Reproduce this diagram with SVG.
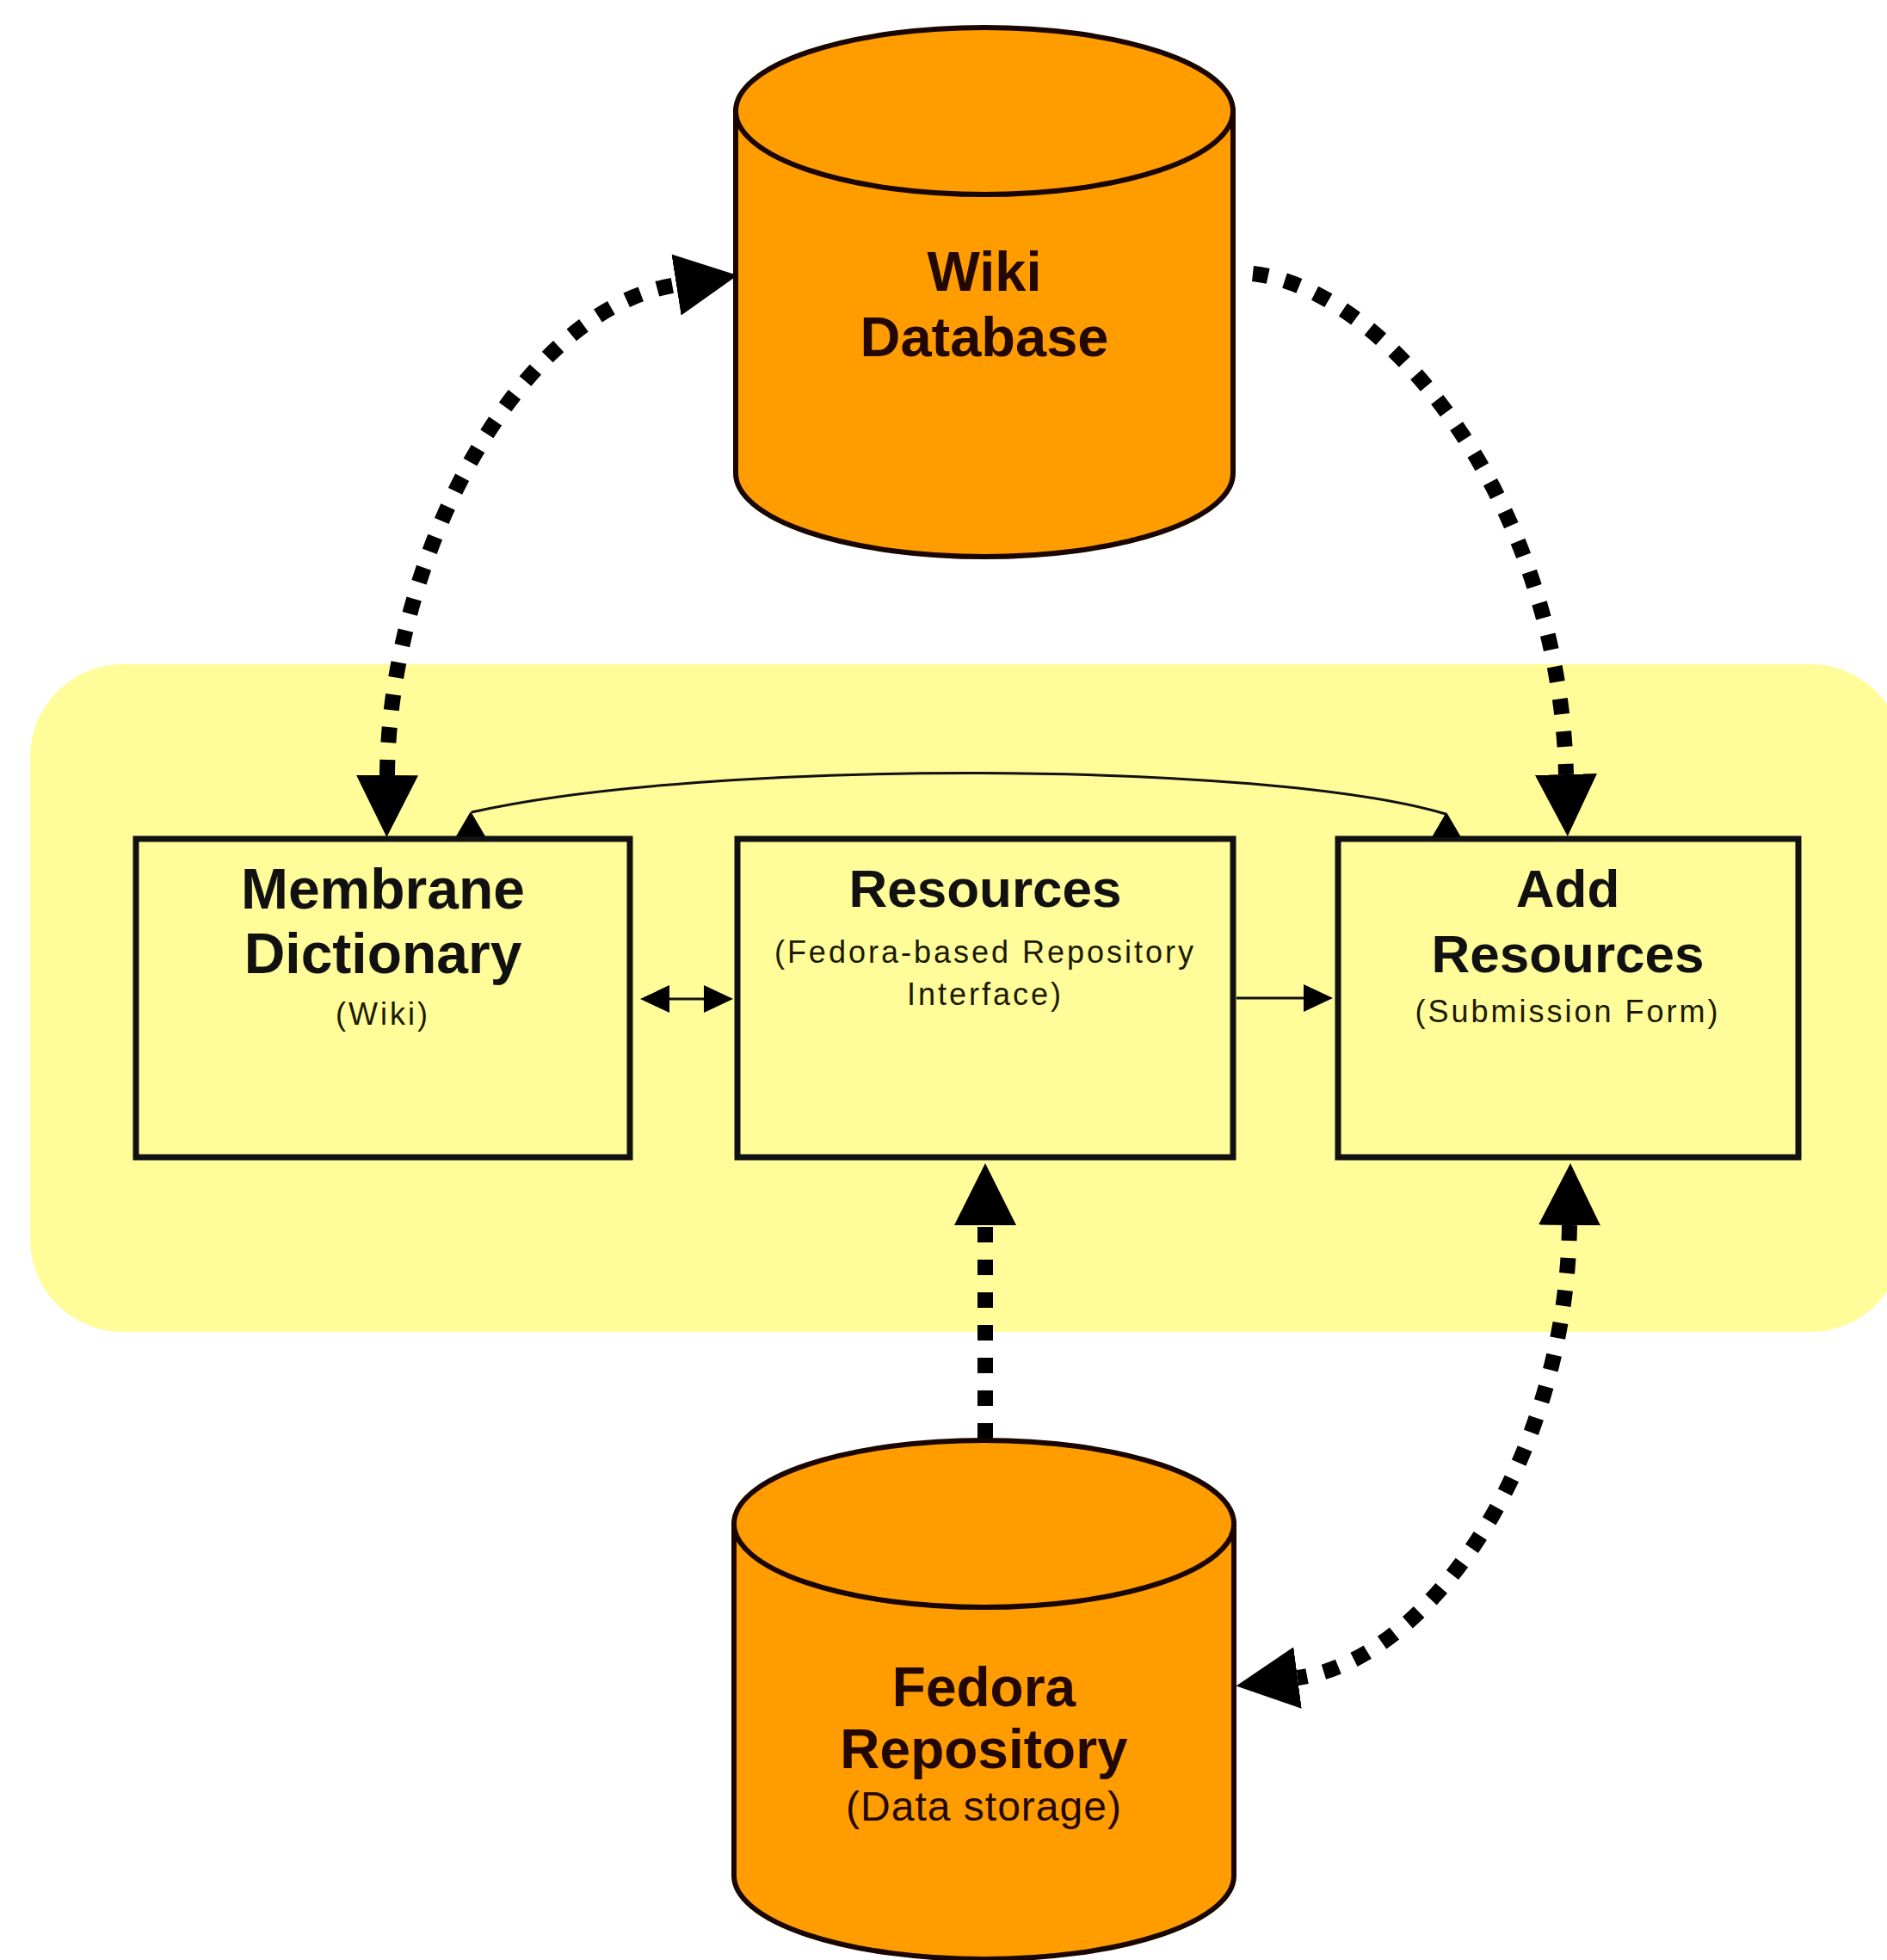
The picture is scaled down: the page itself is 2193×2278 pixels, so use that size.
<svg xmlns="http://www.w3.org/2000/svg" width="2193" height="2278" viewBox="0 0 2193 2278">
  <style>
    .panel { fill: #FFFC99; }
    .box { fill: #FFFC99; stroke: #111; stroke-width: 7; }
    .cyl { fill: #FF9C00; stroke: #1a0600; stroke-width: 6; }
    .title { font-family: "Liberation Sans", Arial, sans-serif; font-weight: bold; fill: #111; text-anchor: middle; }
    .dbtitle { font-family: "Liberation Sans", Arial, sans-serif; font-weight: bold; fill: #220800; text-anchor: middle; }
    .sub { font-family: "Liberation Sans", Arial, sans-serif; font-size: 36px; letter-spacing: 3px; fill: #1a1a00; text-anchor: middle; }
    .dotted { fill: none; stroke: #000; stroke-width: 18; stroke-dasharray: 18 20; }
    .thin { fill: none; stroke: #111; stroke-width: 3; }
  </style>
  <defs>
    <marker id="bigArrow" markerUnits="userSpaceOnUse" markerWidth="72" markerHeight="72" viewBox="0 0 70 70" refX="0" refY="35" orient="auto-start-reverse">
      <path d="M0,0 L70,35 L0,70 Z" fill="#000"/>
    </marker>
    <marker id="smallArrow" markerUnits="userSpaceOnUse" markerWidth="34" markerHeight="32" viewBox="0 0 32 30" refX="0" refY="15" orient="auto-start-reverse">
      <path d="M0,0 L32,15 L0,30 Z" fill="#000"/>
    </marker>
    <path id="tri" d="M0,0 L-17,29 L17,29 Z" fill="#000"/>
  </defs>

  <rect class="panel" x="35" y="772" width="2177" height="776" rx="108" ry="108"/>

  <g id="wiki-database">
    <path class="cyl" d="M855,129 V550 A289,97 0 0,0 1433,550 V129 Z"/>
    <ellipse class="cyl" cx="1144" cy="129" rx="289" ry="97"/>
    <text class="dbtitle" x="1144" y="338" font-size="65">Wiki</text>
    <text class="dbtitle" x="1144" y="414" font-size="65">Database</text>
  </g>

  <g id="fedora-repository">
    <path class="cyl" d="M853,1771 V2180 A290.5,97 0 0,0 1434,2180 V1771 Z"/>
    <ellipse class="cyl" cx="1143.5" cy="1771" rx="290.5" ry="97"/>
    <text class="dbtitle" x="1143.5" y="1983" font-size="64">Fedora</text>
    <text class="dbtitle" x="1143.5" y="2055" font-size="64">Repository</text>
    <text class="dbtitle" x="1143.5" y="2116" font-size="48" font-weight="normal" style="font-weight:normal" letter-spacing="1">(Data storage)</text>
  </g>

  <g id="membrane-dictionary">
    <rect class="box" x="158" y="975" width="574" height="370"/>
    <text class="title" x="445" y="1056" font-size="66">Membrane</text>
    <text class="title" x="445" y="1131" font-size="66">Dictionary</text>
    <text class="sub" x="445" y="1191">(Wiki)</text>
  </g>

  <g id="resources">
    <rect class="box" x="857" y="975" width="576" height="370"/>
    <text class="title" x="1145" y="1054" font-size="62">Resources</text>
    <text class="sub" x="1145" y="1119">(Fedora-based Repository</text>
    <text class="sub" x="1145" y="1168">Interface)</text>
  </g>

  <g id="add-resources">
    <rect class="box" x="1555" y="975" width="535" height="370"/>
    <text class="title" x="1822" y="1054" font-size="62">Add</text>
    <text class="title" x="1822" y="1130" font-size="62">Resources</text>
    <text class="sub" x="1822" y="1188">(Submission Form)</text>
  </g>

  <g id="connectors">
    <path class="dotted" d="M450,901 C452,650 600,360 786,331" marker-start="url(#bigArrow)" marker-end="url(#bigArrow)"/>
    <path class="dotted" d="M1456,318 C1610,335 1812,580 1820,900" marker-end="url(#bigArrow)"/>
    <path class="dotted" d="M1145,1672 L1145,1424" marker-end="url(#bigArrow)"/>
    <path class="dotted" d="M1824,1424 C1820,1700 1660,1930 1508,1950" marker-start="url(#bigArrow)" marker-end="url(#bigArrow)"/>
    <path class="thin" d="M548,944 C820,882 1470,884 1680,946"/>
    <use href="#tri" x="547" y="943"/>
    <use href="#tri" x="1681" y="944"/>
    <path class="thin" d="M778,1161 L818,1161" marker-start="url(#smallArrow)" marker-end="url(#smallArrow)"/>
    <path class="thin" d="M1437,1160 L1515,1160" marker-end="url(#smallArrow)"/>
  </g>
</svg>
